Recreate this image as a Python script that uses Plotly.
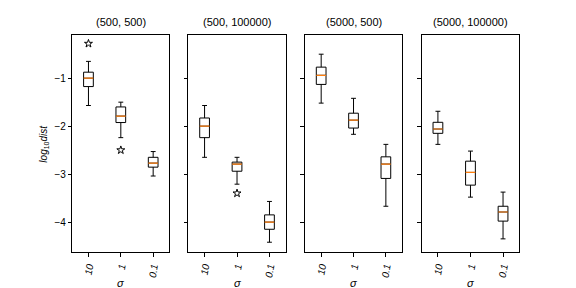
import plotly.graph_objects as go

titles = ["(500, 500)", "(500, 100000)", "(5000, 500)", "(5000, 100000)"]
sigma_labels = ["10", "1", "0.1"]
positions = [1, 2, 3]

# per panel, per sigma: lower whisker, Q1, median, Q3, upper whisker
lower = [[-1.57, -2.24, -3.04], [-2.65, -3.21, -4.42], [-1.52, -2.17, -3.67], [-2.38, -3.48, -4.35]]
q1s = [[-1.175, -1.925, -2.855], [-2.24, -2.94, -4.15], [-1.13, -2.04, -3.09], [-2.15, -3.23, -3.98]]
medians = [[-1.0, -1.79, -2.77], [-2.0, -2.79, -4.0], [-0.94, -1.875, -2.79], [-2.06, -2.965, -3.79]]
q3s = [[-0.875, -1.60, -2.65], [-1.83, -2.75, -3.85], [-0.77, -1.73, -2.64], [-1.92, -2.73, -3.67]]
upper = [[-0.65, -1.50, -2.53], [-1.57, -2.65, -3.57], [-0.50, -1.42, -2.38], [-1.69, -2.52, -3.375]]
# outliers: (panel, position index, value)
outlier_panel = [0, 0, 1]
outlier_pos = [0, 1, 1]
outlier_val = [-0.28, -2.50, -3.40]

box_w = 0.3
W, H = 576, 288
x_domains = [(0.1255, 0.294), (0.327, 0.496), (0.5295, 0.698), (0.732, 0.9016)]
y_domain = (1 - 252.3 / H, 1 - 35 / H)

fig = go.Figure()
for p in range(4):
    xa = "x" if p == 0 else f"x{p+1}"
    ya = "y" if p == 0 else f"y{p+1}"
    for i, pos in enumerate(positions):
        fig.add_trace(go.Box(
            x=[pos], q1=[q1s[p][i]], median=[medians[p][i]], q3=[q3s[p][i]],
            lowerfence=[lower[p][i]], upperfence=[upper[p][i]],
            width=box_w, whiskerwidth=0.5, boxpoints=False,
            line=dict(color="black", width=1), fillcolor="rgba(0,0,0,0)",
            xaxis=xa, yaxis=ya, showlegend=False, hoverinfo="skip"))
    for i, pos in enumerate(positions):
        fig.add_trace(go.Scatter(
            x=[pos - box_w / 2, pos + box_w / 2], y=[medians[p][i]] * 2,
            mode="lines", line=dict(color="#ff7f0e", width=1.2),
            xaxis=xa, yaxis=ya, showlegend=False, hoverinfo="skip"))
    ox = [positions[outlier_pos[k]] for k in range(len(outlier_val)) if outlier_panel[k] == p]
    oy = [outlier_val[k] for k in range(len(outlier_val)) if outlier_panel[k] == p]
    if ox:
        fig.add_trace(go.Scatter(
            x=ox, y=oy, mode="markers",
            marker=dict(symbol="star-open", size=6, color="black", line=dict(width=1, color="black")),
            xaxis=xa, yaxis=ya, showlegend=False, hoverinfo="skip"))

axis_common = dict(showgrid=False, zeroline=False, showline=True, linecolor="black",
                   linewidth=1, mirror=True, ticks="outside", ticklen=3.5,
                   tickcolor="black", tickfont=dict(size=10, color="black",
                   family="Liberation Sans, Arial, sans-serif"))

layout = dict(width=W, height=H, margin=dict(l=0, r=0, t=0, b=0),
              plot_bgcolor="white", paper_bgcolor="white",
              font=dict(family="Liberation Sans, Arial, sans-serif", color="black"))
for p in range(4):
    xk = "xaxis" if p == 0 else f"xaxis{p+1}"
    yk = "yaxis" if p == 0 else f"yaxis{p+1}"
    layout[xk] = dict(axis_common, domain=list(x_domains[p]), range=[0.5, 3.5],
                      tickvals=positions, ticktext=[f"<i>{s}</i>" for s in sigma_labels],
                      tickangle=-80, anchor="y" if p == 0 else f"y{p+1}")
    layout[yk] = dict(axis_common, domain=list(y_domain), range=[-4.63, -0.1],
                      tickvals=[-4, -3, -2, -1], ticktext=["\u22124", "\u22123", "\u22122", "\u22121"],
                      showticklabels=(p == 0), anchor="x" if p == 0 else f"x{p+1}")

annotations = []
for p in range(4):
    cx = (x_domains[p][0] + x_domains[p][1]) / 2
    annotations.append(dict(text=titles[p], x=cx, y=1 - 22 / H, xref="paper", yref="paper",
                            showarrow=False, xanchor="center", yanchor="middle",
                            font=dict(size=11, color="black")))
    annotations.append(dict(text="<i>σ</i>", x=cx, y=1 - 283 / H, xref="paper", yref="paper",
                            showarrow=False, xanchor="center", yanchor="middle",
                            font=dict(size=11, color="black")))
annotations.append(dict(text="<i>log</i><sub>10</sub><i>dist</i>", x=44 / W,
                        y=(y_domain[0] + y_domain[1]) / 2, xref="paper", yref="paper",
                        showarrow=False, textangle=-90, xanchor="center", yanchor="middle",
                        font=dict(size=10, color="black")))
layout["annotations"] = annotations

fig.update_layout(**layout)
fig.write_html("out.html", config={"displayModeBar": False},
               post_script="document.body.style.margin='0';document.body.style.overflow='hidden';")
